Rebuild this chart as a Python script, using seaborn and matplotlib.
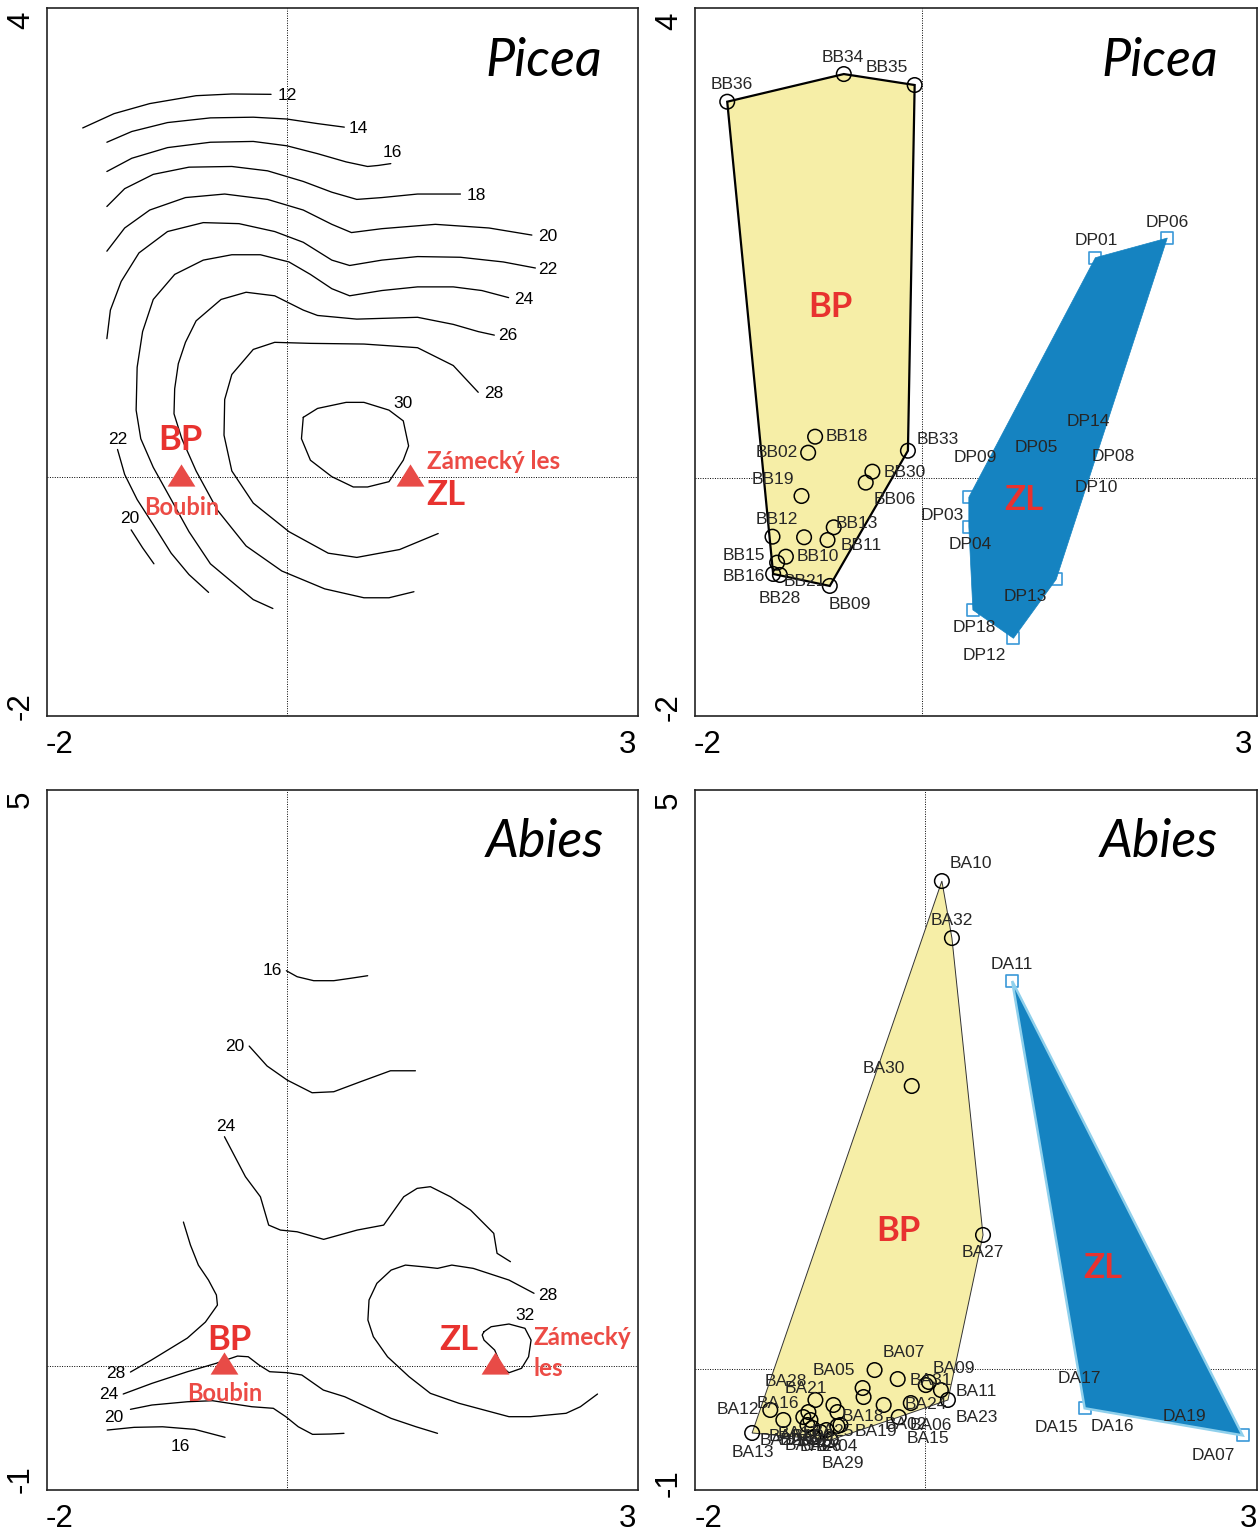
import numpy as np
import pandas as pd
import matplotlib
matplotlib.use("Agg")
import matplotlib.pyplot as plt
import seaborn as sns
from matplotlib.patches import Polygon

sns.set_style("white")
plt.rcParams['font.family'] = ['Liberation Sans', 'DejaVu Sans']

# ---------------- DATA ----------------
# Top-left: Picea contour lines (data units)
P12_x = [-1.80, -1.524, -1.209, -0.80, -0.485, -0.139]
P12_y = [3.056, 3.181, 3.269, 3.338, 3.353, 3.35]
P14_x = [-1.587, -1.367, -1.052, -0.674, -0.296, 0.0, 0.271, 0.507]
P14_y = [2.931, 3.025, 3.103, 3.144, 3.15, 3.134, 3.094, 3.063]
P16_x = [-1.587, -1.367, -1.052, -0.674, -0.296, 0.0, 0.271, 0.523, 0.712, 0.806, 0.917]
P16_y = [2.675, 2.791, 2.884, 2.931, 2.938, 2.9, 2.831, 2.759, 2.719, 2.728, 2.744]
P18_x = [-1.587, -1.43, -1.178, -0.863, -0.485, -0.17, 0.145, 0.397, 0.617, 0.838, 1.153, 1.531]
P18_y = [2.369, 2.525, 2.65, 2.713, 2.719, 2.681, 2.588, 2.494, 2.431, 2.447, 2.478, 2.478]
P20_x = [-1.587, -1.43, -1.209, -0.894, -0.548, -0.17, 0.145, 0.397, 0.57, 0.838, 1.31, 1.783, 2.161]
P20_y = [1.978, 2.181, 2.338, 2.447, 2.478, 2.431, 2.338, 2.213, 2.141, 2.175, 2.213, 2.181, 2.119]
P22_x = [-1.587, -1.556, -1.461, -1.304, -1.052, -0.737, -0.422, -0.107, 0.145, 0.397, 0.554,
         0.838, 1.153, 1.531, 1.909, 2.192]
P22_y = [1.213, 1.463, 1.713, 1.963, 2.15, 2.228, 2.219, 2.15, 2.056, 1.9, 1.853,
         1.9, 1.931, 1.925, 1.884, 1.831]
P24_x = [-0.123, -0.296, -0.485, -0.674, -0.863, -1.02, -1.178, -1.288, -1.329, -1.32, -1.272,
         -1.178, -0.989, -0.737, -0.485, -0.233, 0.019, 0.208, 0.397, 0.554, 0.838, 1.153,
         1.468, 1.72, 1.956]
P24_y = [-1.147, -1.069, -0.913, -0.756, -0.475, -0.194, 0.088, 0.338, 0.588, 0.963, 1.275,
         1.556, 1.775, 1.9, 1.947, 1.947, 1.884, 1.775, 1.65, 1.588, 1.634, 1.666,
         1.666, 1.634, 1.572]
P26_x = [1.121, 0.901, 0.68, 0.334, -0.044, -0.359, -0.611, -0.8, -0.926, -0.995, -0.989,
         -0.957, -0.894, -0.8, -0.58, -0.359, -0.107, 0.145, 0.271, 0.617, 1.153, 1.468,
         1.688, 1.83]
P26_y = [-1.0, -1.053, -1.053, -0.975, -0.819, -0.6, -0.288, 0.056, 0.338, 0.556, 0.775,
         0.994, 1.181, 1.369, 1.556, 1.619, 1.588, 1.463, 1.416, 1.384, 1.4, 1.338,
         1.275, 1.244]
P28_x = [1.335, 0.995, 0.617, 0.365, 0.019, -0.296, -0.485, -0.554, -0.548, -0.485, -0.296,
         -0.107, 0.208, 0.68, 1.153, 1.468, 1.688]
P28_y = [-0.491, -0.631, -0.7, -0.663, -0.475, -0.225, 0.056, 0.369, 0.681, 0.9, 1.119,
         1.181, 1.172, 1.166, 1.134, 0.978, 0.744]
P30_x = [0.145, 0.271, 0.523, 0.68, 0.901, 1.027, 1.074, 1.027, 0.901, 0.712, 0.586, 0.397,
         0.208, 0.129, 0.145]
P30_y = [0.525, 0.603, 0.656, 0.656, 0.588, 0.494, 0.275, 0.15, -0.0375, -0.084, -0.084,
         0.006, 0.15, 0.338, 0.525]
P22b_x = [-1.493, -1.43, -1.32, -1.178, -1.02, -0.863, -0.69]
P22b_y = [0.244, 0.025, -0.194, -0.413, -0.663, -0.85, -1.006]
P20b_x = [-1.373, -1.272, -1.172]
P20b_y = [-0.459, -0.616, -0.756]

picea_levels = ["12", "14", "16", "18", "20", "22", "24", "26", "28", "30", "22", "20"]
picea_label_x = [0.003, 0.627, 0.926, 1.672, 2.302, 2.302, 2.088, 1.95, 1.824, 1.027, -1.493, -1.383]
picea_label_y = [3.344, 3.05, 2.838, 2.469, 2.103, 1.822, 1.556, 1.2375, 0.7375, 0.644, 0.331, -0.356]

# Bottom-left: Abies contour lines
A16_x = [-0.004, 0.091, 0.237, 0.414, 0.561, 0.713]
A16_y = [3.489, 3.436, 3.401, 3.401, 3.422, 3.445]
A20_x = [-0.332, -0.174, 0.003, 0.223, 0.414, 0.649, 0.914, 1.134]
A20_y = [2.824, 2.648, 2.524, 2.412, 2.421, 2.509, 2.606, 2.606]
A24_x = [-0.55, -0.365, -0.233, -0.16, -0.056, 0.091, 0.325, 0.62, 0.854, 1.031, 1.149,
         1.266, 1.443, 1.62, 1.825, 1.854, 1.972]
A24_y = [2.024, 1.671, 1.494, 1.244, 1.2, 1.185, 1.118, 1.2, 1.244, 1.494, 1.568,
         1.583, 1.494, 1.377, 1.171, 0.995, 0.921]
A28a_x = [-0.912, -0.85, -0.78, -0.691, -0.621, -0.612, -0.718, -0.877, -1.194, -1.379]
A28a_y = [1.271, 1.068, 0.891, 0.759, 0.627, 0.538, 0.388, 0.247, 0.053, -0.053]
A24b_x = [-1.443, -1.19, -0.876, -0.623, -0.435, -0.34, -0.245, -0.151, 0.006, 0.132, 0.322,
          0.511, 0.699, 0.92, 1.14, 1.329]
A24b_y = [-0.247, -0.153, -0.05, 0.024, 0.088, 0.082, 0.009, -0.05, -0.059, -0.079, -0.212,
          -0.271, -0.359, -0.462, -0.536, -0.594]
A20b_x = [-1.379, -1.19, -0.876, -0.655, -0.466, -0.309, -0.119, -0.009, 0.101, 0.227, 0.384, 0.504]
A20b_y = [-0.382, -0.344, -0.315, -0.306, -0.335, -0.359, -0.373, -0.447, -0.536, -0.603, -0.6, -0.594]
A16b_x = [-1.584, -1.347, -1.096, -0.812, -0.545]
A16b_y = [-0.565, -0.541, -0.536, -0.559, -0.629]
A28b_x = [2.18, 1.959, 1.644, 1.455, 1.329, 1.204, 1.046, 0.92, 0.794, 0.725, 0.715, 0.763,
          0.888, 1.078, 1.266, 1.519, 1.739, 1.959, 2.148, 2.463, 2.589, 2.74]
A28b_y = [0.642, 0.759, 0.862, 0.891, 0.862, 0.876, 0.891, 0.847, 0.73, 0.583, 0.406, 0.259,
          0.082, -0.094, -0.241, -0.329, -0.388, -0.447, -0.447, -0.417, -0.359, -0.247]
A32_x = [1.739, 1.802, 1.959, 2.1, 2.154, 2.132, 2.07, 1.959, 1.896, 1.833, 1.739, 1.723, 1.739]
A32_y = [0.303, 0.347, 0.371, 0.333, 0.229, 0.082, -0.02, -0.059, -0.006, 0.141, 0.229, 0.274, 0.303]

abies_levels = ["16", "20", "24", "28", "24", "20", "16", "28", "32"]
abies_label_x = [-0.13, -0.462, -0.541, -1.512, -1.573, -1.529, -0.938, 2.298, 2.1]
abies_label_y = [3.489, 2.818, 2.112, -0.062, -0.247, -0.45, -0.712, 0.627, 0.45]

# Site triangles
picea_site_x = [-0.932, 1.084]
picea_site_y = [0.02, 0.02]
abies_site_x = [-0.551, 1.84]
abies_site_y = [0.026, 0.026]

# Top-right: Picea samples
BB_names = ["BB36", "BB34", "BB35", "BB18", "BB02", "BB33", "BB30", "BB06", "BB19", "BB12",
            "BB28", "BB13", "BB11", "BB10", "BB15", "BB16", "BB21", "BB09"]
BB_x = [-1.819, -0.73, -0.068, -0.998, -1.063, -0.131, -0.463, -0.525, -1.125, -1.396,
        -1.101, -0.824, -0.882, -1.271, -1.353, -1.39, -1.327, -0.861]
BB_y = [3.295, 3.537, 3.441, 0.364, 0.224, 0.241, 0.058, -0.038, -0.155, -0.511,
        -0.516, -0.429, -0.54, -0.686, -0.738, -0.837, -0.846, -0.942]
DP_names = ["DP06", "DP01", "DP09", "DP04", "DP03", "DP13", "DP18", "DP12", "DP14", "DP05", "DP08", "DP10"]
DP_x = [2.292, 1.62, 0.438, 0.438, 0.632, 1.254, 0.476, 0.855, 1.424, 0.911, 1.471, 1.359]
DP_y = [2.102, 1.93, -0.166, -0.423, -0.321, -0.884, -1.152, -1.4, 0.335, 0.117, 0.073, -0.19]

# Bottom-right: Abies samples
BA_names = ["BA10", "BA32", "BA30", "BA27", "BA07", "BA09", "BA31", "BA11", "BA23", "BA24",
            "BA06", "BA02", "BA15", "BA05", "BA18", "BA19", "BA28", "BA21", "BA16", "BA12",
            "BA13", "BA25", "BA04", "BA29", "BA01", "BA03", "BA08", "BA14", "BA17", "BA20",
            "BA22", "BA26"]
BA_x = [0.158, 0.251, -0.121, 0.539, -0.465, 0.037, 0.009, 0.149, 0.214, -0.13,
        -0.242, -0.381, -0.251, -0.576, -0.567, -0.846, -1.013, -1.078, -1.31, -1.431,
        -1.599, -0.809, -0.781, -1.032, -1.125, -1.059, -1.087, -1.041, -0.809, -0.967,
        -0.911, -0.874]
BA_y = [4.288, 3.787, 2.487, 1.178, -0.009, -0.114, -0.141, -0.185, -0.272, -0.299,
        -0.422, -0.316, -0.088, -0.167, -0.246, -0.316, -0.272, -0.378, -0.448, -0.36,
        -0.562, -0.378, -0.492, -0.598, -0.422, -0.448, -0.492, -0.518, -0.501, -0.554,
        -0.536, -0.624]
DA_names = ["DA11", "DA15", "DA07", "DA16", "DA17", "DA19"]
DA_x = [0.809, 1.48, 2.943, 1.636, 1.589, 2.193]
DA_y = [3.409, -0.345, -0.583, -0.272, -0.228, -0.316]

# ---------------- LAYOUT (label offsets in pixels) ----------------
BB_off = [(5, 17), (-1, 17), (-28, 18), (32, 0), (-31, 0), (30, 11), (32, -1), (29, -17),
          (-29, 17), (4, 17), (-24, -61), (23, 4), (34, -6), (32, 0), (-33, 7), (-29, -3),
          (25, -7), (20, -19)]
DP_off = [(0, 16), (1, 17), (6, 40), (1, -18), (-47, -1), (-31, -17), (1, -18), (-29, -17),
          (14, 18), (17, 17), (34, 13), (29, 13)]
BA_off = [(29, 18), (0, 18), (-28, 18), (0, -18), (29, 18), (25, 14), (5, 5), (35, -1),
          (29, -18), (15, -1), (32, -8), (22, -20), (30, -59), (-29, 18), (-1, -19), (42, -27),
          (-30, 18), (-3, 24), (-5, 17), (-32, 0), (1, -20), (-5, -19), (-4, -21), (30, -26),
          (-13, -19), (-10, -20), (5, -11), (-7, -18), (-39, -7), (-2, -9), (-46, -10), (-10, -6)]
DA_off = [(0, 17), (-28, -19), (-29, -20), (11, -27), (-17, 16), (23, -12)]

RED = "#E8322F"
RED2 = "#EC4B45"
YELLOW = "#F6EEA7"
BLUE = "#1583C1"
SQ_EDGE = "#3A98D8"

from matplotlib import font_manager as fm
def has_font(name):
    try:
        fm.findfont(fm.FontProperties(family=name), fallback_to_default=False)
        return True
    except Exception:
        return False

TITLEFONT = "Lato" if has_font("Lato") else "DejaVu Sans"
BOLDFONT = "Lato" if has_font("Lato") else "DejaVu Sans"


def hull(xs, ys):
    pts = sorted(set(zip(xs, ys)))
    def cross(o, a, b):
        return (a[0]-o[0])*(b[1]-o[1]) - (a[1]-o[1])*(b[0]-o[0])
    lower, upper = [], []
    for p in pts:
        while len(lower) >= 2 and cross(lower[-2], lower[-1], p) <= 0:
            lower.pop()
        lower.append(p)
    for p in reversed(pts):
        while len(upper) >= 2 and cross(upper[-2], upper[-1], p) <= 0:
            upper.pop()
        upper.append(p)
    return lower[:-1] + upper[:-1]


def style_axes(ax, xlim, ylim, yticks, ylabels):
    ax.set_xlim(*xlim)
    ax.set_ylim(*ylim)
    ax.set_xticks([-2, -1, 0, 1, 2, 3])
    ax.set_xticklabels(["-2", "", "", "", "", "3"])
    ax.set_yticks(yticks)
    ax.set_yticklabels(ylabels, rotation=90, va="center")
    ax.tick_params(axis="both", direction="inout", length=8, width=1, colors="black",
                   labelsize=22.5)
    ax.tick_params(axis="x", pad=6)
    ax.tick_params(axis="y", pad=4)
    for s in ax.spines.values():
        s.set_visible(True)
        s.set_color("#222222")
        s.set_linewidth(1.2)
    ax.axhline(0, color="black", lw=0.7, ls=(0, (1, 1.5)), zorder=0.5)
    ax.axvline(0, color="black", lw=0.7, ls=(0, (1, 1.5)), zorder=0.5)
    ax.set_xlabel("")
    ax.set_ylabel("")


def draw_contours(ax, lines):
    rows = []
    for i, (xs, ys) in enumerate(lines):
        for j, (x, y) in enumerate(zip(xs, ys)):
            rows.append({"seg": i, "order": j, "x": x, "y": y})
    df = pd.DataFrame(rows)
    sns.lineplot(data=df, x="x", y="y", units="seg", estimator=None, sort=False,
                 color="black", lw=0.95, ax=ax, legend=False,
                 solid_joinstyle="round", solid_capstyle="round")


def title(ax, text, xr):
    ax.text(xr, 0.904, text, transform=ax.transAxes, ha="right", va="baseline",
            fontsize=37.5, fontstyle="italic", fontfamily=TITLEFONT, color="black")


def sites(ax, sx, sy):
    tri = [(-1, -0.8), (1, -0.8), (0, 0.8), (-1, -0.8)]
    ax.scatter(sx, sy, marker=tri, s=20**2, color="#E84B47", zorder=6, linewidths=0)


fig = plt.figure(figsize=(12.6, 15.33), dpi=100)
W, H = 1260, 1533
def axes_px(l, t, r, b):
    return fig.add_axes([l / W, 1 - b / H, (r - l) / W, (b - t) / H])

ax_tl = axes_px(47, 8, 638, 716)
ax_tr = axes_px(695, 8, 1257, 716)
ax_bl = axes_px(47, 790, 638, 1490)
ax_br = axes_px(695, 790, 1257, 1490)

bf = dict(fontfamily=BOLDFONT, fontweight="bold", ha="center", va="center", zorder=7)

# ---------- Top-left ----------
ax = ax_tl
draw_contours(ax, [(P12_x, P12_y), (P14_x, P14_y), (P16_x, P16_y), (P18_x, P18_y),
                   (P20_x, P20_y), (P22_x, P22_y), (P24_x, P24_y), (P26_x, P26_y),
                   (P28_x, P28_y), (P30_x, P30_y), (P22b_x, P22b_y), (P20b_x, P20b_y)])
for t, x, y in zip(picea_levels, picea_label_x, picea_label_y):
    ax.text(x, y, t, ha="center", va="center", fontsize=12.5, color="black", zorder=5)
sites(ax, picea_site_x, picea_site_y)
ax.text(-0.938, 0.324, "BP", fontsize=25, color=RED, **bf)
ax.text(-0.93, -0.262, "Boubin", fontsize=17, color=RED2, **bf)
ax.text(1.82, 0.14, "Zámecký les", fontsize=17.5, color=RED2, **bf)
ax.text(1.398, -0.157, "ZL", fontsize=25, color=RED, **bf)
style_axes(ax, (-2.115, 3.097), (-2.087, 4.105), [-2, -1, 0, 1, 2, 3, 4],
           ["-2", "", "", "", "", "", "4"])
title(ax, "Picea", 0.939)

# ---------- Top-right ----------
ax = ax_tr
hb = hull(BB_x, BB_y)
ax.add_patch(Polygon(hb, closed=True, facecolor=YELLOW, edgecolor="black", lw=1.6, zorder=1))
sns.scatterplot(x=BB_x, y=BB_y, ax=ax, marker="o", s=110, facecolor="none",
                edgecolor="black", linewidth=1.1, zorder=4, legend=False)
sns.scatterplot(x=DP_x, y=DP_y, ax=ax, marker="s", s=75, facecolor="white",
                edgecolor=SQ_EDGE, linewidth=1.2, zorder=2, legend=False)
hd = hull(DP_x, DP_y)
ax.add_patch(Polygon(hd, closed=True, facecolor=BLUE, edgecolor=BLUE, lw=0.5, zorder=3))
for n, x, y, o in zip(BB_names, BB_x, BB_y, BB_off):
    ax.annotate(n, (x, y), xytext=o, textcoords="offset pixels", ha="center", va="center",
                fontsize=12.5, zorder=6)
for n, x, y, o in zip(DP_names, DP_x, DP_y, DP_off):
    ax.annotate(n, (x, y), xytext=o, textcoords="offset pixels", ha="center", va="center",
                fontsize=12.5, zorder=6)
ax.text(-0.852, 1.5, "BP", fontsize=25, color=RED, **bf)
ax.text(0.949, -0.19, "ZL", fontsize=25, color=RED, **bf)
style_axes(ax, (-2.12, 3.13), (-2.08, 4.115), [-2, -1, 0, 1, 2, 3, 4],
           ["-2", "", "", "", "", "", "4"])
title(ax, "Picea", 0.931)

# ---------- Bottom-left ----------
ax = ax_bl
draw_contours(ax, [(A16_x, A16_y), (A20_x, A20_y), (A24_x, A24_y), (A28a_x, A28a_y),
                   (A24b_x, A24b_y), (A20b_x, A20b_y), (A16b_x, A16b_y), (A28b_x, A28b_y),
                   (A32_x, A32_y)])
for t, x, y in zip(abies_levels, abies_label_x, abies_label_y):
    ax.text(x, y, t, ha="center", va="center", fontsize=12.5, color="black", zorder=5)
sites(ax, abies_site_x, abies_site_y)
ax.text(-0.506, 0.229, "BP", fontsize=25, color=RED, **bf)
ax.text(-0.545, -0.238, "Boubin", fontsize=17, color=RED2, **bf)
ax.text(1.518, 0.23, "ZL", fontsize=25, color=RED, **bf)
lf = dict(bf); lf["ha"] = "left"
ax.text(2.175, 0.256, "Zámecký", fontsize=17.5, color=RED2, **lf)
ax.text(2.175, -0.018, "les", fontsize=17.5, color=RED2, **lf)
style_axes(ax, (-2.115, 3.097), (-1.094, 5.084), [-1, 0, 1, 2, 3, 4, 5],
           ["-1", "", "", "", "", "", "5"])
title(ax, "Abies", 0.942)

# ---------- Bottom-right ----------
ax = ax_br
ha_ = hull(BA_x, BA_y)
ax.add_patch(Polygon(ha_, closed=True, facecolor=YELLOW, edgecolor="#333333", lw=0.7, zorder=1))
sns.scatterplot(x=BA_x, y=BA_y, ax=ax, marker="o", s=110, facecolor="none",
                edgecolor="black", linewidth=1.1, zorder=4, legend=False)
sns.scatterplot(x=DA_x, y=DA_y, ax=ax, marker="s", s=75, facecolor="white",
                edgecolor=SQ_EDGE, linewidth=1.2, zorder=2, legend=False)
hda = hull(DA_x, DA_y)
ax.add_patch(Polygon(hda, closed=True, facecolor=BLUE, edgecolor="#8FD0EC", lw=1.8, zorder=3))
for n, x, y, o in zip(BA_names, BA_x, BA_y, BA_off):
    ax.annotate(n, (x, y), xytext=o, textcoords="offset pixels", ha="center", va="center",
                fontsize=12.5, zorder=6)
for n, x, y, o in zip(DA_names, DA_x, DA_y, DA_off):
    ax.annotate(n, (x, y), xytext=o, textcoords="offset pixels", ha="center", va="center",
                fontsize=12.5, zorder=6)
ax.text(-0.242, 1.213, "BP", fontsize=25, color=RED, **bf)
ax.text(1.645, 0.888, "ZL", fontsize=25, color=RED, **bf)
style_axes(ax, (-2.128, 3.076), (-1.063, 5.088), [-1, 0, 1, 2, 3, 4, 5],
           ["-1", "", "", "", "", "", "5"])
title(ax, "Abies", 0.931)

fig.savefig("out.png", dpi=100, facecolor="white")
